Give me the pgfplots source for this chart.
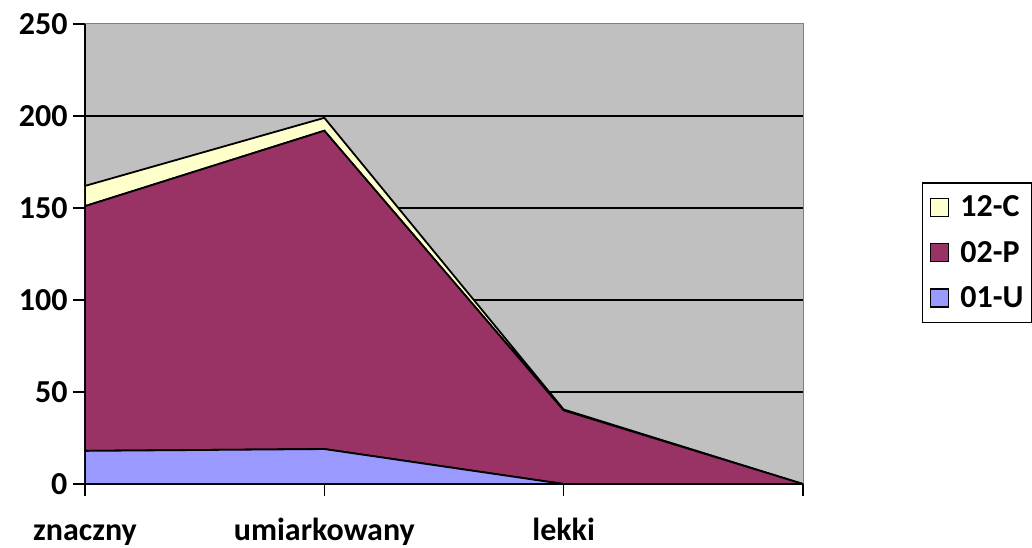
\documentclass[border=0pt]{standalone}
\usepackage{pgfplots}
\pgfplotsset{compat=1.18}
\usepackage{fontspec}
\setmainfont{Carlito}
\definecolor{bgc}{HTML}{C0C0C0}
\definecolor{cU}{HTML}{9999FF}
\definecolor{cP}{HTML}{993366}
\definecolor{cC}{HTML}{FFFFCC}
\newcommand{\bigf}{\fontsize{32}{36}\selectfont\bfseries}
\begin{document}
\begin{tikzpicture}
\path[use as bounding box] (-85pt,-64pt) rectangle (947pt,484pt);
\begin{axis}[
  at={(0,0)}, anchor=south west,
  scale only axis, width=718pt, height=460pt,
  xmin=0, xmax=3, ymin=0, ymax=250,
  stack plots=y,
  axis lines=left, axis line style={-, black, line width=2pt},
  axis background/.style={fill=bgc, draw=gray, line width=1pt},
  xtick={0,1,2,3}, xticklabels={znaczny,umiarkowany,lekki,{}},
  ytick={0,50,...,250},
  extra y ticks={50,100,150,200},
  extra y tick labels={},
  extra y tick style={ymajorgrids=true, major tick length=0pt},
  major grid style={black, line width=1.5pt},
  tick align=outside, major tick length=12pt,
  tick style={black, line width=1.5pt},
  /pgf/number format/assume math mode=true,
  ticklabel style={font=\bigf},
  yticklabel style={xshift=-2pt},
  xticklabel style={anchor=base, yshift=-44pt},
  reverse legend,
  legend style={at={(axis description cs:1.2423,0.503)}, anchor=center,
    draw=black, line width=1.5pt,
    nodes={font=\bigf, inner sep=3pt},
    inner xsep=5pt, inner ysep=10pt, row sep=17pt},
  legend image code/.code={\draw[#1, draw=black, line width=1.2pt] (2pt,-9pt) rectangle (20pt,9pt);\path (0pt,0pt) (28pt,0pt);},
  legend cell align=left,
]
\addplot[fill=cU, draw=black, line width=1.8pt] coordinates {(0,18) (1,19) (2,0) (3,0)} \closedcycle;
\addlegendentry{01-U}
\addplot[fill=cP, draw=black, line width=1.8pt] coordinates {(0,133) (1,173) (2,40) (3,0)} \closedcycle;
\addlegendentry{02-P}
\addplot[fill=cC, draw=black, line width=1.8pt] coordinates {(0,11) (1,7) (2,0.5) (3,0)} \closedcycle;
\addlegendentry{12-C}
\end{axis}
\end{tikzpicture}
\end{document}
